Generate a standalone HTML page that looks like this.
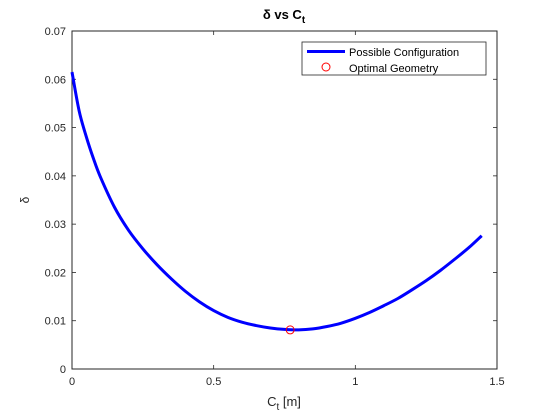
<!DOCTYPE html>
<html><head><meta charset="utf-8"><style>
body{margin:0;background:#fff;}
svg{display:block;font-family:"Liberation Sans","DejaVu Sans",sans-serif;}
</style></head><body>
<svg id="chart" width="550" height="416" viewBox="0 0 550 416">
<rect x="0" y="0" width="550" height="416" fill="#fff"/>
<text x="284" y="19" text-anchor="middle" font-size="13" font-weight="bold" fill="#000">δ vs C<tspan font-size="10" dy="4">t</tspan></text>
<rect x="72" y="31" width="425" height="338" fill="#fff" stroke="none"/>
<g id="axes"></g>
<g id="series"></g>
<text x="284" y="406" text-anchor="middle" font-size="13" fill="#262626">C<tspan font-size="10" dy="4">t</tspan><tspan dy="-4"> [m]</tspan></text>
<text transform="translate(29,200) rotate(-90)" text-anchor="middle" font-size="12" fill="#262626">δ</text>
<g>
<rect x="302" y="42" width="184" height="33" fill="#fff" stroke="#262626" stroke-width="0.8"/>
<line x1="307" y1="51.5" x2="345" y2="51.5" stroke="#0000ff" stroke-width="3"/>
<text x="349" y="56" font-size="11" fill="#000">Possible Configuration</text>
<circle cx="326" cy="67" r="4" fill="none" stroke="#ff0000" stroke-width="1"/>
<text x="349" y="72" font-size="11" fill="#000">Optimal Geometry</text>
</g>
</svg>
<script>
const xTicks=[0,0.5,1,1.5];
const xTickLabels=["0","0.5","1","1.5"];
const yTicks=[0,0.01,0.02,0.03,0.04,0.05,0.06,0.07];
const yTickLabels=["0","0.01","0.02","0.03","0.04","0.05","0.06","0.07"];
const ctValues=[0,0.025,0.05,0.075,0.1,0.15,0.2,0.25,0.3,0.35,0.4,0.45,0.5,0.55,0.6,0.65,0.7,0.75,0.8,0.85,0.9,0.95,1.0,1.05,1.1,1.15,1.2,1.25,1.3,1.35,1.4,1.446];
const deltaValues=[0.0615,0.0535,0.0482,0.0437,0.0398,0.0335,0.0287,0.0249,0.0216,0.0187,0.0161,0.0139,0.0121,0.0107,0.0097,0.009,0.0085,0.0082,0.0081,0.0083,0.0088,0.0095,0.0105,0.0117,0.0131,0.0146,0.0164,0.0183,0.0204,0.0227,0.0251,0.0276];
const optimalCt=[0.77];
const optimalDelta=[0.0081];
const L=72,R=497,T=31,B=369;
const xs=v=>L+(v-0)/(1.5-0)*(R-L);
const ys=v=>B-(v-0)/(0.07-0)*(B-T);
const NS="http://www.w3.org/2000/svg";
const axes=document.getElementById('axes');
const series=document.getElementById('series');
function mk(tag,attrs,parent){const e=document.createElementNS(NS,tag);for(const k in attrs)e.setAttribute(k,attrs[k]);parent.appendChild(e);return e;}
xTicks.forEach((t,i)=>{
 const x=xs(t);
 const a=mk('line',{x1:x,y1:B,x2:x,y2:B-4,stroke:'#262626','stroke-width':0.8},axes);
 
 
 const b=mk('line',{x1:x,y1:T,x2:x,y2:T+4,stroke:'#262626','stroke-width':0.8},axes);
 
 
 const tx=mk('text',{x:x,y:B+16,'text-anchor':'middle','font-size':11,fill:'#262626'},axes);
 tx.textContent=xTickLabels[i];
 
 
});
yTicks.forEach((t,i)=>{
 const y=ys(t);
 const a=mk('line',{x1:L,y1:y,x2:L+4,y2:y,stroke:'#262626','stroke-width':0.8},axes);
 
 
 const b=mk('line',{x1:R,y1:y,x2:R-4,y2:y,stroke:'#262626','stroke-width':0.8},axes);
 
 
 const tx=mk('text',{x:L-6,y:y+4,'text-anchor':'end','font-size':11,fill:'#262626'},axes);
 tx.textContent=yTickLabels[i];
 
 
});
const frame=mk('rect',{x:L,y:T,width:R-L,height:B-T,fill:'none',stroke:'#262626','stroke-width':1},axes);


const pts=ctValues.map((c,i)=>[xs(c),ys(deltaValues[i])]);
let d='M'+pts[0][0]+','+pts[0][1];
for(let i=0;i<pts.length-1;i++){
 const p0=pts[Math.max(0,i-1)],p1=pts[i],p2=pts[i+1],p3=pts[Math.min(pts.length-1,i+2)];
 const c1=[p1[0]+(p2[0]-p0[0])/6,p1[1]+(p2[1]-p0[1])/6];
 const c2=[p2[0]-(p3[0]-p1[0])/6,p2[1]-(p3[1]-p1[1])/6];
 d+=' C'+c1+' '+c2+' '+p2;
}
const line=mk('path',{d:d,fill:'none',stroke:'#0000ff','stroke-width':3,'stroke-linejoin':'round'},series);


optimalCt.forEach((c,i)=>{
 const m=mk('circle',{cx:xs(c),cy:ys(optimalDelta[i]),r:4,fill:'none',stroke:'#ff0000','stroke-width':1},series);
 
 
});
</script>
</body></html>
